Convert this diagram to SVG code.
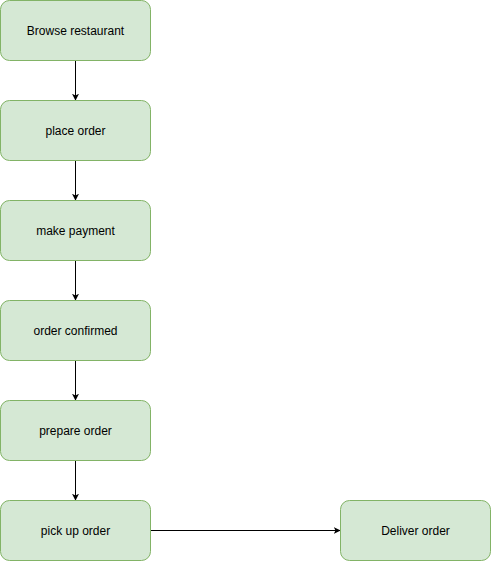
<svg xmlns="http://www.w3.org/2000/svg" width="491" height="561" viewBox="0 0 491 561">
<style>
.node rect{fill:#d5e8d4;stroke:#82b366;stroke-width:1}
.node text{font-family:"Liberation Sans",Arial,sans-serif;font-size:12px;fill:#000;text-anchor:middle;dominant-baseline:central}
.edge{fill:none;stroke:#000;stroke-width:1}
</style>
<defs>
<marker id="arr" viewBox="0 0 10 10" refX="9" refY="5" markerWidth="7" markerHeight="7" markerUnits="userSpaceOnUse" orient="auto">
<path d="M0,0 L10,5 L0,10 L2.5,5 Z" fill="#000"/>
</marker>
</defs>
<rect width="491" height="561" fill="#fff"/>
<g id="connectors">
<path class="edge" d="M75.5,60.5 V100" marker-end="url(#arr)"/>
<path class="edge" d="M75.5,160.5 V200" marker-end="url(#arr)"/>
<path class="edge" d="M75.5,260.5 V300" marker-end="url(#arr)"/>
<path class="edge" d="M75.5,360.5 V400" marker-end="url(#arr)"/>
<path class="edge" d="M75.5,460.5 V500" marker-end="url(#arr)"/>
<path class="edge" d="M150.5,530.5 H340" marker-end="url(#arr)"/>
</g>
<g id="browse" class="node"><rect x="0.5" y="0.5" width="150" height="60" rx="9"/><text x="75.5" y="30.5">Browse restaurant</text></g>
<g id="place" class="node"><rect x="0.5" y="100.5" width="150" height="60" rx="9"/><text x="75.5" y="130.5">place order</text></g>
<g id="payment" class="node"><rect x="0.5" y="200.5" width="150" height="60" rx="9"/><text x="75.5" y="230.5">make payment</text></g>
<g id="confirmed" class="node"><rect x="0.5" y="300.5" width="150" height="60" rx="9"/><text x="75.5" y="330.5">order confirmed</text></g>
<g id="prepare" class="node"><rect x="0.5" y="400.5" width="150" height="60" rx="9"/><text x="75.5" y="430.5">prepare order</text></g>
<g id="pickup" class="node"><rect x="0.5" y="500.5" width="150" height="60" rx="9"/><text x="75.5" y="530.5">pick up order</text></g>
<g id="deliver" class="node"><rect x="340.5" y="500.5" width="150" height="60" rx="9"/><text x="415.5" y="530.5">Deliver order</text></g>
</svg>
